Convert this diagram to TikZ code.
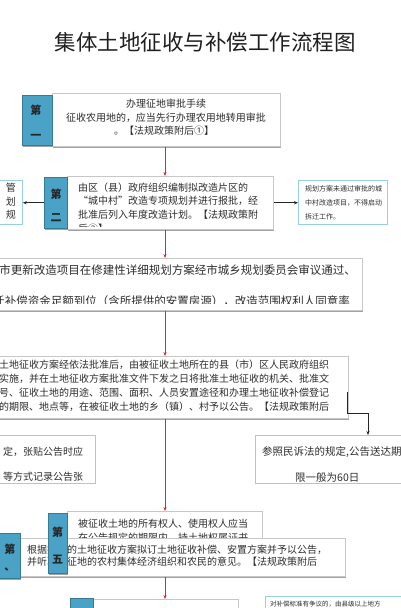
\documentclass[tikz,border=0pt]{standalone}
\usepackage{fontspec}
\newfontfamily\cjk{Noto Sans CJK SC}
\usetikzlibrary{arrows.meta,shadows}
\XeTeXinterchartokenstate=1
\XeTeXinterchartoks 1 1 = {\hskip0pt plus 1pt}
\XeTeXinterchartoks 1 2 = {\hskip0pt plus 1pt}
\XeTeXinterchartoks 1 3 = {\hskip0pt plus 1pt}
\XeTeXinterchartoks 2 1 = {\hskip0pt plus 1pt}
\XeTeXinterchartoks 3 1 = {\hskip0pt plus 1pt}
\XeTeXinterchartoks 3 2 = {\hskip0pt plus 1pt}
\XeTeXinterchartoks 3 3 = {\hskip0pt plus 1pt}
\XeTeXinterchartoks 2 2 = {\hskip0pt plus 1pt}
\definecolor{tabblue}{RGB}{74,163,198}
\definecolor{sidecyan}{RGB}{150,210,222}
\definecolor{arrred}{RGB}{215,40,50}
\definecolor{txt}{RGB}{45,45,45}
\newcommand\jline[2]{\makebox[#1][s]{#2}}
\tikzset{
 wbox/.style={draw=black!22, fill=white, line width=0.5pt, inner sep=0pt, anchor=north west,
   drop shadow={shadow xshift=1pt, shadow yshift=-1.6pt, fill=black!45, opacity=0.8}},
 tabbox/.style={draw=tabblue!75!black, fill=tabblue, line width=0.5pt, inner sep=0pt, anchor=north west,
   drop shadow={shadow xshift=1pt, shadow yshift=-1.6pt, fill=black!45, opacity=0.8}},
 sidebox/.style={draw=sidecyan, fill=white, line width=0.8pt, inner sep=0pt, anchor=north west},
 body/.style={inner sep=0pt, text=txt, font=\cjk\fontsize{10}{12}\selectfont, anchor=base west},
 tabtxt/.style={inner sep=0pt, text=black!85, font=\cjk\bfseries\fontsize{11}{12}\selectfont, anchor=center},
 redarr/.style={draw=arrred, line width=0.7pt, -{Stealth[length=4pt,width=3.2pt]}},
 blkarr/.style={draw=black!85, line width=0.7pt, -{Stealth[length=4pt,width=3.2pt]}},
}
\begin{document}
\begin{tikzpicture}[x=1pt,y=-1pt]
\useasboundingbox (0,0) rectangle (400,608);
\coordinate (ax) at (165,0);

% title
\node[inner sep=0pt, text=black!88, font=\cjk\fontsize{21.5}{24}\selectfont] (title) at (205,42) {集体土地征收与补偿工作流程图};

% step 1
\node[wbox, minimum width=228pt, minimum height=53pt] (b1) at (52,93) {};
\node[tabbox, minimum width=30pt, minimum height=50pt] (t1) at (22,95) {};
\node[tabtxt] (t1a) at (36,110.5) {第};
\node[tabtxt] (t1b) at (36,137) {一};
\node[body, anchor=base] (b1l1) at (166,107.8) {办理征地审批手续};
\node[body, anchor=base] (b1l2) at (166,121.8) {征收农用地的，应当先行办理农用地转用审批};
\node[body, anchor=base] (b1l3) at (164,134.8) {。【法规政策附后①】};

% step 2
\node[wbox, minimum width=206pt, minimum height=53pt] (b2) at (67,176) {};
\node[tabbox, minimum width=23pt, minimum height=51pt] (t2) at (44,177) {};
\node[tabtxt] (t2a) at (56,194) {第};
\node[tabtxt] (t2b) at (56,218) {二};
\begin{scope}
\clip (67,176) rectangle (273,226);
\node[body] (b2l1) at (78,191.3) {由区（县）政府组织编制拟改造片区的};
\node[body] (b2l2) at (78,204.8) {“城中村”改造专项规划并进行报批，经};
\node[body] (b2l3) at (78,218.3) {批准后列入年度改造计划。【法规政策附};
\node[body] (b2l4) at (78,232.8) {后②】};
\end{scope}

\node[sidebox, minimum width=27pt, minimum height=44pt] (lb2) at (-5,180) {};
\node[body, anchor=base east] (lb2a) at (16,191.8) {管};
\node[body, anchor=base east] (lb2b) at (16,205.3) {划};
\node[body, anchor=base east] (lb2c) at (16,218.8) {规};

\node[sidebox, minimum width=89pt, minimum height=44pt] (rb2) at (298,180) {};
\node[body, font=\cjk\fontsize{7}{8}\selectfont] (rb2a) at (305,191.7) {规划方案未通过审批的城};
\node[body, font=\cjk\fontsize{7}{8}\selectfont] (rb2b) at (305,205.7) {中村改造项目，不得启动};
\node[body, font=\cjk\fontsize{7}{8}\selectfont] (rb2c) at (305,219.2) {拆迁工作。};

\draw[blkarr] (t2.west) -- (t2.west -| lb2.east);
\draw[blkarr] (b2.east) -- (b2.east -| rb2.west);

% step 3
\node[wbox, minimum width=367pt, minimum height=52pt] (b3) at (-5,258) {};
\node[body, font=\cjk\fontsize{11.5}{13}\selectfont, anchor=base east] (b3l1) at (356,274.4) {城市更新改造项目在修建性详细规划方案经市城乡规划委员会审议通过、};
\begin{scope}
\clip (-5,258) rectangle (362,303.5);
\node[body, font=\cjk\fontsize{11.5}{13}\selectfont, anchor=base east] (b3l2) at (350,305.4) {拆迁补偿资金足额到位（含所提供的安置房源），改造范围权利人同意率};
\end{scope}

% step 4
\node[wbox, minimum width=353pt, minimum height=62pt] (b4) at (-5,356) {};
\node[body] (b4l1) at (-1,368.8) {\jline{332pt}{土地征收方案经依法批准后，由被征收土地所在的县（市）区人民政府组织}};
\node[body] (b4l2) at (-1,382.8) {\jline{332pt}{实施，并在土地征收方案批准文件下发之日将批准土地征收的机关、批准文}};
\node[body] (b4l3) at (-1,396.8) {\jline{332pt}{号、征收土地的用途、范围、面积、人员安置途径和办理土地征收补偿登记}};
\node[body] (b4l4) at (-1,410.8) {\jline{332pt}{的期限、地点等，在被征收土地的乡（镇）、村予以公告。【法规政策附后}};

\node[sidebox, minimum width=100pt, minimum height=48pt] (lb6) at (-5,435) {};
\node[body] (lb6a) at (3,455.8) {定，张贴公告时应};
\node[body] (lb6b) at (3,480.8) {等方式记录公告张};

\node[sidebox, minimum width=150pt, minimum height=48pt] (rb5) at (255,435) {};
\node[body, font=\cjk\fontsize{10.5}{12}\selectfont] (rb5a) at (262,455) {参照民诉法的规定,公告送达期};
\node[body, font=\cjk\fontsize{10.5}{12}\selectfont] (rb5b) at (295,481) {限一般为60日};

\coordinate (c1) at (347,392);
\coordinate (c2) at (368,413);
\draw[blkarr] (c1) |- (c2) -- (c2 |- rb5.north);

% step 5 (behind)
\node[wbox, minimum width=195pt, minimum height=34pt] (b7) at (67,511) {};
\node[body] (b7l1) at (78,527.8) {被征收土地的所有权人、使用权人应当};
\node[body] (b7l2) at (78,541.8) {在公告规定的期限内，持土地权属证书};

% step 6 (front)
\node[wbox, minimum width=325pt, minimum height=38pt] (b8) at (20,538) {};
\node[tabbox, minimum width=21pt, minimum height=45pt] (t8) at (-1,533) {};
\node[tabtxt] (t8a) at (10,549) {第};
\node[tabtxt] (t8b) at (10,570) {、};
\node[body] (b8l1) at (27,553.3) {根据批准的土地征收方案拟订土地征收补偿、安置方案并予以公告，};
\node[body] (b8l2) at (27,565.3) {并听取被征地的农村集体经济组织和农民的意见。【法规政策附后};

% tab of step 5 on top
\node[tabbox, minimum width=19pt, minimum height=60pt] (t7) at (48,513) {};
\node[tabtxt] (t7a) at (57.5,532) {第};
\node[tabtxt] (t7b) at (57.5,560) {五};

% bottom row
\node[wbox, minimum width=145pt, minimum height=16pt] (b9) at (93,599) {};
\node[tabbox, minimum width=23pt, minimum height=17pt] (t9) at (70,598) {};
\node[sidebox, minimum width=140pt, minimum height=19pt] (rb10) at (265,596) {};
\node[body, font=\cjk\fontsize{6.5}{7}\selectfont] (rb10a) at (270,606.5) {对补偿标准有争议的，由县级以上地方};

% red flow arrows
\draw[redarr] (b1.south -| ax) -- (b2.north -| ax);
\draw[redarr] (b2.south -| ax) -- (b3.north -| ax);
\draw[redarr] (b3.south -| ax) -- (b4.north -| ax);
\draw[redarr] (b4.south -| ax) -- (b7.north -| ax);
\draw[redarr] (b8.south -| ax) -- (b9.north -| ax);
\end{tikzpicture}
\end{document}
